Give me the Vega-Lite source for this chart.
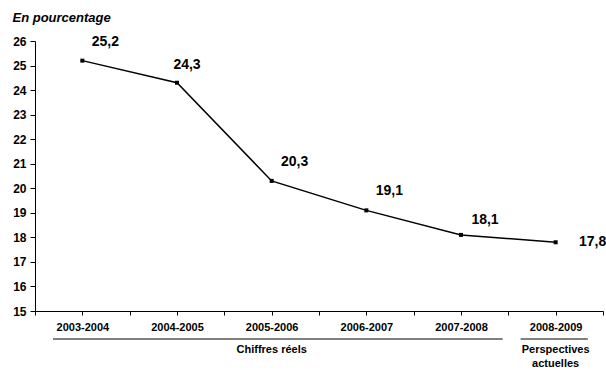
{
  "$schema": "https://vega.github.io/schema/vega-lite/v6.json",
  "padding": {"left": 12, "top": 11, "right": 0, "bottom": 0},
  "background": "white",
  "config": {"view": {"stroke": null}, "font": "Liberation Sans"},
  "bounds": "flush",
  "spacing": 28,
  "datasets": {
    "serie": [
      {"idx": 0, "periode": "2003-2004", "taux": 25.2, "etiquette": "25,2"},
      {"idx": 1, "periode": "2004-2005", "taux": 24.3, "etiquette": "24,3"},
      {"idx": 2, "periode": "2005-2006", "taux": 20.3, "etiquette": "20,3"},
      {"idx": 3, "periode": "2006-2007", "taux": 19.1, "etiquette": "19,1"},
      {"idx": 4, "periode": "2007-2008", "taux": 18.1, "etiquette": "18,1"},
      {"idx": 5, "periode": "2008-2009", "taux": 17.8, "etiquette": "17,8"}
    ],
    "groupes": [
      {"groupe": "Chiffres réels", "debut": -0.31, "fin": 4.44, "milieu": 2},
      {"groupe": "Perspectives\nactuelles", "debut": 4.63, "fin": 5.34, "milieu": 5}
    ]
  },
  "vconcat": [
    {
      "width": 568,
      "height": 270,
      "data": {"name": "serie"},
      "encoding": {
        "x": {
          "field": "idx", "type": "quantitative",
          "scale": {"domain": [-0.5, 5.5], "nice": false, "zero": false},
          "axis": {
            "values": [-0.5, 0, 0.5, 1, 1.5, 2, 2.5, 3, 3.5, 4, 4.5, 5, 5.5],
            "labelExpr": "datum.value % 1 === 0 ? ['2003-2004','2004-2005','2005-2006','2006-2007','2007-2008','2008-2009'][datum.value] : ''",
            "title": null, "grid": false,
            "domainColor": "black", "tickColor": "black", "tickSize": 4,
            "labelPadding": 6, "labelFont": "Liberation Sans", "labelFontWeight": "bold",
            "labelFontSize": 11, "labelColor": "black", "labelFlush": false, "labelOverlap": false
          }
        },
        "y": {
          "field": "taux", "type": "quantitative",
          "scale": {"domain": [15, 26], "nice": false, "zero": false},
          "axis": {
            "values": [15, 16, 17, 18, 19, 20, 21, 22, 23, 24, 25, 26],
            "title": "En pourcentage", "titleAngle": 0, "titleAlign": "left",
            "titleBaseline": "middle", "titleX": -23, "titleY": -24,
            "titleFont": "Liberation Sans", "titleFontStyle": "italic", "titleFontWeight": "bold",
            "titleFontSize": 13, "titleColor": "black",
            "grid": false, "domainColor": "black", "tickColor": "black", "tickSize": 5,
            "labelPadding": 4, "labelFont": "Liberation Sans", "labelFontWeight": "bold",
            "labelFontSize": 12, "labelColor": "black"
          }
        }
      },
      "layer": [
        {"mark": {"type": "line", "color": "black", "strokeWidth": 1.5}},
        {"mark": {"type": "square", "color": "black", "size": 16, "opacity": 1}},
        {
          "transform": [{"filter": "datum.idx == 0 || datum.idx == 2 || datum.idx == 3"}],
          "mark": {"type": "text", "dx": 23, "dy": -19, "fontSize": 14, "fontWeight": "bold", "font": "Liberation Sans", "color": "black"},
          "encoding": {"text": {"field": "etiquette"}}
        },
        {
          "transform": [{"filter": "datum.idx == 1"}],
          "mark": {"type": "text", "dx": 10, "dy": -18, "fontSize": 14, "fontWeight": "bold", "font": "Liberation Sans", "color": "black"},
          "encoding": {"text": {"field": "etiquette"}}
        },
        {
          "transform": [{"filter": "datum.idx == 4"}],
          "mark": {"type": "text", "dx": 24, "dy": -15, "fontSize": 14, "fontWeight": "bold", "font": "Liberation Sans", "color": "black"},
          "encoding": {"text": {"field": "etiquette"}}
        },
        {
          "transform": [{"filter": "datum.idx == 5"}],
          "mark": {"type": "text", "dx": 37, "dy": 0, "fontSize": 14, "fontWeight": "bold", "font": "Liberation Sans", "color": "black"},
          "encoding": {"text": {"field": "etiquette"}}
        }
      ]
    },
    {
      "width": 568,
      "height": 30,
      "data": {"name": "groupes"},
      "layer": [
        {
          "mark": {"type": "rule", "color": "#808080", "strokeWidth": 2},
          "encoding": {
            "x": {"field": "debut", "type": "quantitative", "scale": {"domain": [-0.5, 5.5], "nice": false, "zero": false}, "axis": null},
            "x2": {"field": "fin"},
            "y": {"datum": 1, "type": "quantitative", "scale": {"domain": [0, 1]}, "axis": null}
          }
        },
        {
          "mark": {"type": "text", "baseline": "top", "dy": 5, "lineBreak": "\n", "lineHeight": 14, "fontSize": 11, "fontWeight": "bold", "font": "Liberation Sans", "color": "black"},
          "encoding": {
            "x": {"field": "milieu", "type": "quantitative", "scale": {"domain": [-0.5, 5.5], "nice": false, "zero": false}, "axis": null},
            "y": {"datum": 1, "type": "quantitative", "scale": {"domain": [0, 1]}, "axis": null},
            "text": {"field": "groupe"}
          }
        }
      ]
    }
  ]
}
